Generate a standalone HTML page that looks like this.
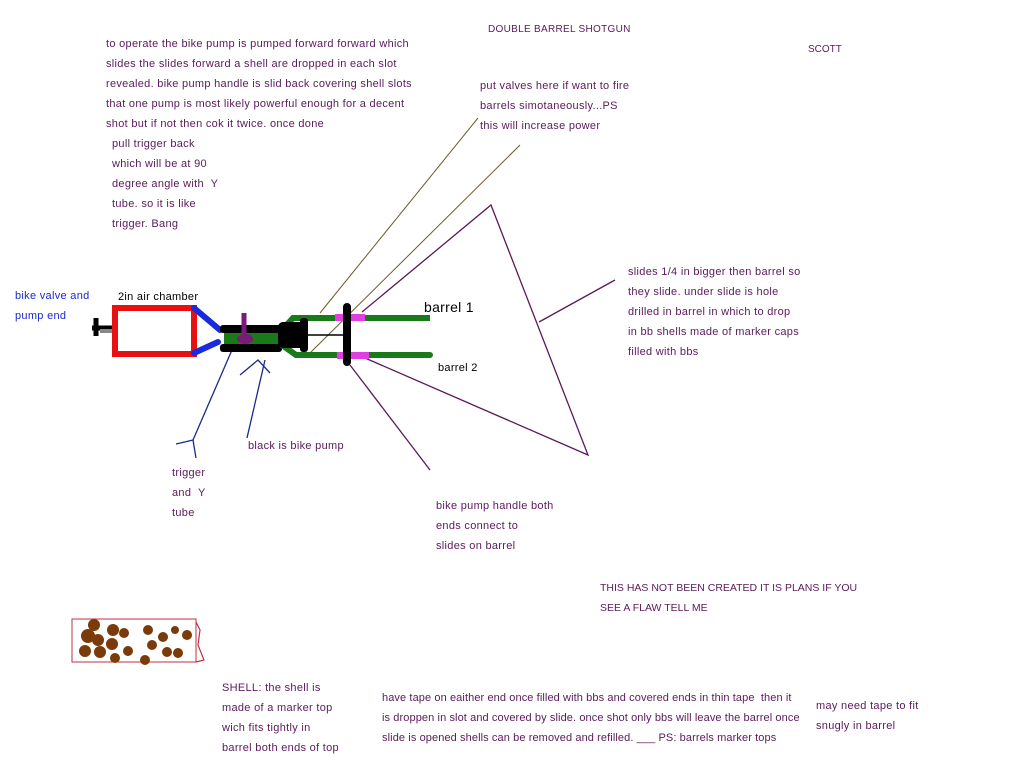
<!DOCTYPE html>
<html><head><meta charset="utf-8"><style>
body{margin:0;background:#fff;width:1024px;height:768px;position:relative;overflow:hidden;font-family:"Liberation Sans",sans-serif;}
.t{position:absolute;font-size:11px;color:#5a1a5a;line-height:20px;white-space:nowrap;letter-spacing:0.3px}
.c{font-size:10px;letter-spacing:0}
svg{position:absolute;left:0;top:0}
</style></head><body>
<svg width="1024" height="768">
<line x1="320" y1="313" x2="478" y2="118" stroke="#6b5a2a" stroke-width="1"/>
<line x1="308" y1="355" x2="520" y2="145" stroke="#6b5a2a" stroke-width="1"/>
<polyline points="362,312 491,205 588,455 365,358" fill="none" stroke="#5a1a5a" stroke-width="1.3"/>
<line x1="539" y1="322" x2="615" y2="280" stroke="#5a1a5a" stroke-width="1.3"/>
<line x1="350" y1="365" x2="430" y2="470" stroke="#5a1a5a" stroke-width="1.3"/>
<polyline points="235,343 193,440" fill="none" stroke="#1a2a8a" stroke-width="1.3"/>
<polyline points="176,444 193,440 196,458" fill="none" stroke="#1a2a8a" stroke-width="1.3"/>
<line x1="265" y1="360" x2="247" y2="438" stroke="#1a2a8a" stroke-width="1.3"/>
<polyline points="240,375 258,360 270,373" fill="none" stroke="#1a2a8a" stroke-width="1.3"/>
<line x1="92" y1="328" x2="112" y2="328" stroke="#000" stroke-width="5"/>
<line x1="96" y1="318" x2="96" y2="336" stroke="#000" stroke-width="5"/>
<line x1="100" y1="331" x2="114" y2="331" stroke="#888" stroke-width="4"/>
<rect x="115" y="308" width="79" height="46" fill="none" stroke="#e81010" stroke-width="6"/>
<line x1="194" y1="308" x2="220" y2="330" stroke="#1a2ae0" stroke-width="6" stroke-linecap="round"/>
<line x1="194" y1="353" x2="218" y2="342" stroke="#1a2ae0" stroke-width="6" stroke-linecap="round"/>
<rect x="220" y="325" width="62" height="8" fill="#000" rx="3"/>
<rect x="220" y="344" width="62" height="8" fill="#000" rx="3"/>
<rect x="224" y="333" width="58" height="11" fill="#1a7a1a"/>
<line x1="244" y1="313" x2="244" y2="340" stroke="#7a1a7a" stroke-width="5"/>
<ellipse cx="245" cy="339" rx="8" ry="5" fill="#7a1a7a"/>
<polyline points="282,330 293,318 430,318" fill="none" stroke="#1a7a1a" stroke-width="6"/>
<polyline points="282,345 296,355 430,355" fill="none" stroke="#1a7a1a" stroke-width="6" stroke-linecap="round"/>
<rect x="278" y="322" width="30" height="26" fill="#000" rx="5"/>
<rect x="300" y="318" width="8" height="34" fill="#000" rx="3"/>
<line x1="308" y1="335" x2="345" y2="335" stroke="#000" stroke-width="1.5"/>
<rect x="335" y="314" width="30" height="7" fill="#e040e0"/>
<rect x="337" y="352" width="32" height="7" fill="#e040e0"/>
<line x1="347" y1="307" x2="347" y2="362" stroke="#000" stroke-width="8" stroke-linecap="round"/>
<rect x="72" y="619" width="124" height="43" fill="none" stroke="#c03040" stroke-width="1"/>
<polyline points="196,622 200,630 198,645 204,660 196,662" fill="none" stroke="#c03040" stroke-width="1.2"/>
<g fill="#7a3a0a">
<circle cx="94" cy="625" r="6"/><circle cx="88" cy="636" r="7"/><circle cx="98" cy="640" r="6"/><circle cx="85" cy="651" r="6"/><circle cx="100" cy="652" r="6"/>
<circle cx="113" cy="630" r="6"/><circle cx="124" cy="633" r="5"/><circle cx="112" cy="644" r="6"/><circle cx="128" cy="651" r="5"/><circle cx="115" cy="658" r="5"/>
<circle cx="148" cy="630" r="5"/><circle cx="152" cy="645" r="5"/><circle cx="145" cy="660" r="5"/><circle cx="163" cy="637" r="5"/><circle cx="167" cy="652" r="5"/><circle cx="178" cy="653" r="5"/><circle cx="187" cy="635" r="5"/><circle cx="175" cy="630" r="4"/>
</g>
</svg>

<div class="t c" style="left:488px;top:20px;letter-spacing:0.3px">DOUBLE BARREL SHOTGUN</div>
<div class="t c" style="left:808px;top:40px;">SCOTT</div>
<div class="t" style="left:106px;top:34px;">to operate the bike pump is pumped forward forward which<br>slides the slides forward a shell are dropped in each slot<br>revealed. bike pump handle is slid back covering shell slots<br>that one pump is most likely powerful enough for a decent<br>shot but if not then cok it twice. once done</div>
<div class="t" style="left:112px;top:134px;">pull trigger back<br>which will be at 90<br>degree angle with &nbsp;Y<br>tube. so it is like<br>trigger. Bang</div>
<div class="t" style="left:480px;top:76px;">put valves here if want to fire<br>barrels simotaneously...PS<br>this will increase power</div>
<div class="t" style="left:15px;top:286px;color:#1a2ad0;">bike valve and<br>pump end</div>
<div class="t" style="left:118px;top:287px;color:#000;">2in air chamber</div>
<div class="t" style="left:424px;top:297px;color:#000;font-size:14px;">barrel 1</div>
<div class="t" style="left:438px;top:358px;color:#000;">barrel 2</div>
<div class="t" style="left:628px;top:262px;">slides 1/4 in bigger then barrel so<br>they slide. under slide is hole<br>drilled in barrel in which to drop<br>in bb shells made of marker caps<br>filled with bbs</div>
<div class="t" style="left:248px;top:436px;">black is bike pump</div>
<div class="t" style="left:172px;top:463px;">trigger<br>and &nbsp;Y<br>tube</div>
<div class="t" style="left:436px;top:496px;">bike pump handle both<br>ends connect to<br>slides on barrel</div>
<div class="t" style="left:600px;top:578px;font-size:10.5px;letter-spacing:0">THIS HAS NOT BEEN CREATED IT IS PLANS IF YOU<br>SEE A FLAW TELL ME</div>
<div class="t" style="left:222px;top:678px;">SHELL: the shell is<br>made of a marker top<br>wich fits tightly in<br>barrel both ends of top</div>
<div class="t" style="left:382px;top:688px;letter-spacing:0.1px">have tape on eaither end once filled with bbs and covered ends in thin tape &nbsp;then it<br>is droppen in slot and covered by slide. once shot only bbs will leave the barrel once<br>slide is opened shells can be removed and refilled. ___ PS: barrels marker tops</div>
<div class="t" style="left:816px;top:696px;">may need tape to fit<br>snugly in barrel</div>
</body></html>
